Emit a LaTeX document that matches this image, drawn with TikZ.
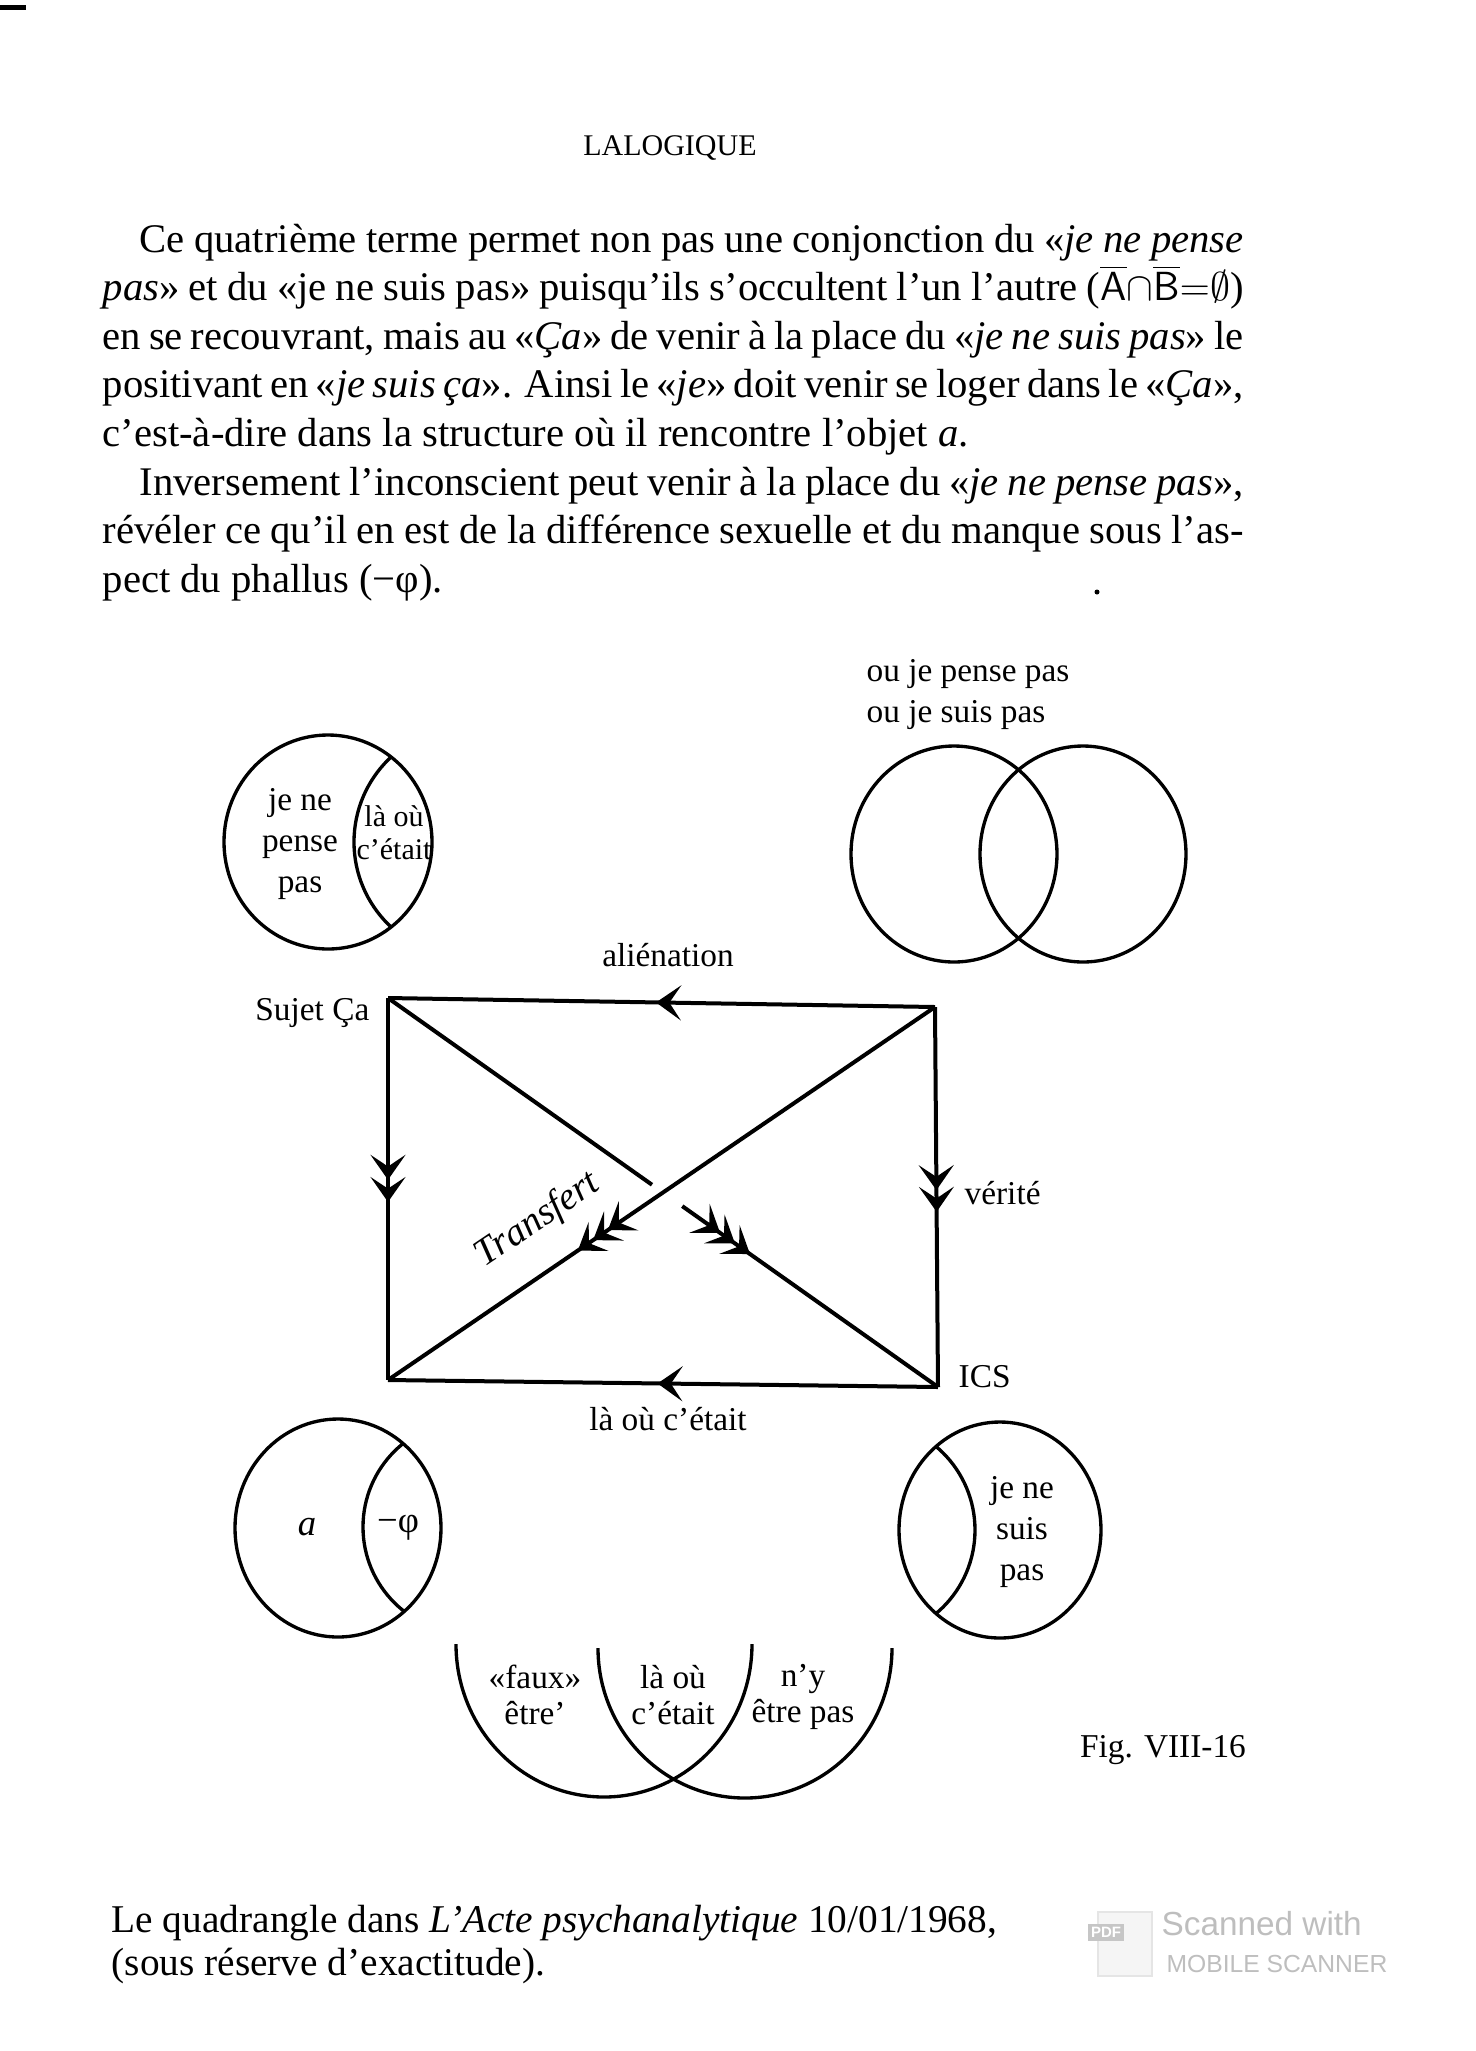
\documentclass[tikz,border=0pt]{standalone}
\usepackage{fontspec}
\setmainfont{Liberation Serif}
\newfontfamily\scanfont{Liberation Sans}
\usetikzlibrary{arrows.meta,calc,decorations.markings}
\definecolor{scangray}{HTML}{BEBEBE}

\begin{document}
\begin{tikzpicture}[x=0.3pt,y=0.3pt,>={Stealth[length=7.5pt,width=10.5pt,inset=3.5pt]},
txt/.style={font=\fontsize{12.2}{14}\selectfont,inner sep=0pt,anchor=base west},
lbl/.style={font=\fontsize{10}{12.3}\selectfont,inner sep=0pt,align=center},
small/.style={font=\fontsize{9}{10}\selectfont,inner sep=0pt,align=center},
arclbl/.style={font=\fontsize{10}{10.6}\selectfont,inner sep=0pt,align=center},
scan/.style={font=\scanfont,text=scangray,inner sep=0pt,anchor=base west},
ring/.style={line width=1pt},
edge/.style={line width=1.2pt},
onehead/.style={postaction={decorate},decoration={markings,mark=at position #1 with {\arrow{>}}}},
twoheads/.style args={#1/#2}{postaction={decorate},decoration={markings,
  mark=at position #1 with {\arrow{>}},mark=at position #2 with {\arrow{>}}}},
threeheads/.style args={#1/#2/#3}{postaction={decorate},decoration={markings,
  mark=at position #1 with {\arrow{>}},mark=at position #2 with {\arrow{>}},mark=at position #3 with {\arrow{>}}}}]
\fill[white] (0,0) rectangle (1476,-2051);
\useasboundingbox (0,0) rectangle (1476,-2051);
\draw[line width=1.5pt] (0,-7) -- (26,-7);
\fill (1097,-592) circle[radius=2.5];

\node[txt,font=\fontsize{9}{11}\selectfont,anchor=base] (titre) at (670,-155) {LALOGIQUE};
\node[txt] (l1) at (139,-252) {\makebox[331.2pt][s]{Ce quatrième terme permet non pas une conjonction du «\textit{je ne pense}}};
\node[txt] (l2) at (102,-300.6) {\makebox[342.3pt][s]{\textit{pas}» et du «je ne suis pas» puisqu'ils s'occultent l'un l'autre ($\overline{\mathsf{A}}{\cap}\overline{\mathsf{B}}{=}\emptyset$)}};
\node[txt] (l3) at (102,-349.2) {\makebox[342.3pt][s]{en se recouvrant, mais au «\textit{Ça}» de venir à la place du «\textit{je ne suis pas}» le}};
\node[txt] (l4) at (102,-397.8) {\makebox[342.3pt][s]{positivant en «\textit{je suis ça}». Ainsi le «\textit{je}» doit venir se loger dans le «\textit{Ça}»,}};
\node[txt] (l5) at (102,-446.4) {c'est-à-dire dans la structure où il rencontre l'objet \textit{a}.};
\node[txt] (l6) at (139,-495) {\makebox[331.2pt][s]{Inversement l'inconscient peut venir à la place du «\textit{je ne pense pas}»,}};
\node[txt] (l7) at (102,-543.6) {\makebox[342.3pt][s]{révéler ce qu'il en est de la différence sexuelle et du manque sous l'as-}};
\node[txt] (l8) at (102,-592.2) {pect du phallus (−φ).};

\draw[ring] (328,-842) ellipse[x radius=104,y radius=107];
\begin{scope}
\clip (328,-842) ellipse[x radius=104,y radius=107];
\draw[ring] (470,-842) circle[radius=116];
\end{scope}
\node[lbl] (jnpp) at (300,-844) {je ne\\pense\\pas};
\node[small] (laou1) at (394,-833) {là où\\c'était};

\node[lbl,anchor=west,align=left] (oupas) at (866,-694) {ou je pense pas\\ou je suis pas};
\draw[ring] (954,-854) ellipse[x radius=103,y radius=108];
\draw[ring] (1083,-854) ellipse[x radius=103,y radius=108];

\coordinate (sujet) at (388,-998);
\coordinate (tr) at (935,-1007);
\coordinate (bl) at (388,-1380);
\coordinate (ics) at (938,-1387);
\draw[edge,onehead=0.51] (tr) -- (sujet);
\draw[edge,onehead=0.51] (ics) -- (bl);
\draw[edge,twoheads=0.476/0.534] (sujet) -- (bl);
\draw[edge,twoheads=0.482/0.539] (tr) -- (ics);
\draw[edge,threeheads=0.598/0.625/0.653] (tr) -- (bl);
\draw[edge] (sujet) -- ($(sujet)!0.48!(ics)$);
\draw[edge,threeheads=0.148/0.206/0.265] ($(sujet)!0.535!(ics)$) -- (ics);

\node[lbl,anchor=base] (alien) at (668,-966) {aliénation};
\node[lbl,anchor=base east] (sujetlbl) at (370,-1020) {Sujet Ça};
\node[lbl,anchor=base west] (veritelbl) at (964,-1204) {vérité};
\node[lbl,anchor=base west] (icslbl) at (958,-1387) {ICS};
\node[lbl,anchor=base] (laou2) at (668,-1430) {là où c'était};
\node[font=\fontsize{11.5}{14}\selectfont\itshape,inner sep=0pt,rotate=34] (transfert) at (538,-1220) {Transfert};

\draw[ring] (338,-1528) ellipse[x radius=103,y radius=109];
\begin{scope}
\clip (338,-1528) ellipse[x radius=103,y radius=109];
\draw[ring] (470,-1527) circle[radius=107];
\end{scope}
\node[font=\fontsize{11}{13}\selectfont,inner sep=0pt] (objeta) at (307,-1527) {\textit{a}};
\node[font=\fontsize{11}{13}\selectfont,inner sep=0pt] (phi) at (398,-1528) {−φ};

\draw[ring] (1000,-1530) ellipse[x radius=101,y radius=108];
\begin{scope}
\clip (1000,-1530) ellipse[x radius=101,y radius=108];
\draw[ring] (866,-1530) circle[radius=109];
\end{scope}
\node[lbl] (jnsp) at (1022,-1532) {je ne\\suis\\pas};

\draw[ring] (456,-1644) arc[start angle=180,end angle=360,x radius=148,y radius=153];
\draw[ring] (598,-1648) arc[start angle=180,end angle=360,x radius=147,y radius=150];
\node[arclbl] (faux) at (535,-1695) {«faux»\\être'};
\node[arclbl] (laou3) at (673,-1695) {là où\\c'était};
\node[arclbl] (nyetre) at (803,-1697) {n'y\\être pas};
\node[lbl,anchor=base] (fig) at (1163,-1757) {Fig. VIII-16};

\node[txt,font=\fontsize{11.8}{14}\selectfont] (cap1) at (111,-1932) {Le quadrangle dans \textit{L'Acte psychanalytique} 10/01/1968,};
\node[txt,font=\fontsize{11.8}{14}\selectfont] (cap2) at (111,-1975) {(sous réserve d'exactitude).};

\draw[draw=gray!20,fill=gray!8] (1098,-1912) rectangle (1152,-1976);
\node[fill=gray!45,text=white,font=\scanfont\bfseries\fontsize{4.5}{5}\selectfont,inner sep=1pt] (pdf) at (1106,-1932) {PDF};
\node[scan,font=\scanfont\fontsize{10}{12}\selectfont] (scanned) at (1161,-1935) {Scanned with};
\node[scan,font=\scanfont\fontsize{7.4}{9}\selectfont] (mobile) at (1166,-1972) {MOBILE SCANNER};
\end{tikzpicture}
\end{document}
